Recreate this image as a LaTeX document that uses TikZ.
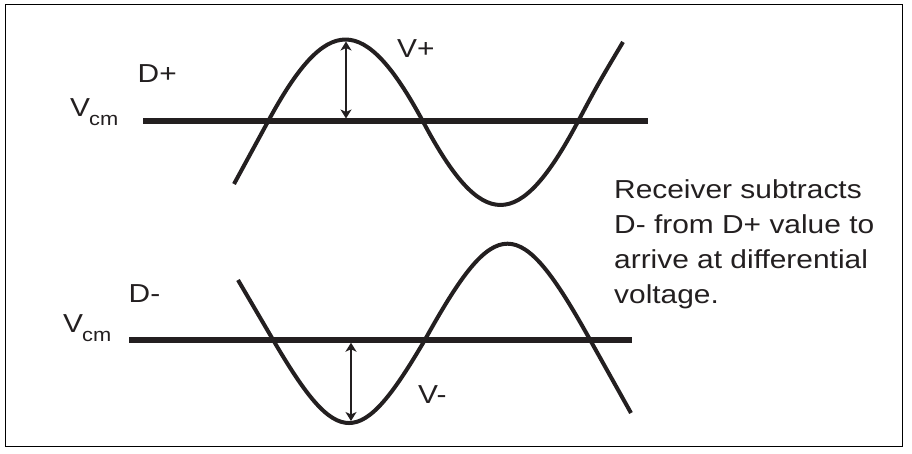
\documentclass[tikz,border=0pt]{standalone}
\usepackage{fontspec}
\setmainfont{Liberation Sans}
\newfontfamily\lblfont[FakeStretch=1.15]{Liberation Sans}
\usetikzlibrary{arrows.meta}
\definecolor{ink}{RGB}{35,31,32}
\begin{document}
\begin{tikzpicture}[x=1pt,y=-1pt,
  lbl/.style={anchor=base west,inner sep=0pt,text=ink,font=\lblfont\fontsize{26}{35}\selectfont},
  note/.style={lbl,align=left},
  axisline/.style={draw=ink,line width=6pt},
  wave/.style={draw=ink,line width=4pt,line join=round},
  amp/.style={draw=ink,line width=2.2pt,>={Stealth[length=9pt,width=11pt,inset=2.5pt]},<->},
  frame/.style={draw=black,line width=1.3pt}]
\useasboundingbox (0,0) rectangle (912,454);
\draw[frame] (5.5,4.5) rectangle (902.5,446.5);

% ---- D+ ----
\coordinate (t1) at (143,121.5);
\coordinate (t2) at (648,121.5);
\draw[axisline] (t1) -- (t2);
\draw[wave] (234,184) -- (268,121.5)
  .. controls (327,12.2) and (364,12.2) .. (423,121.5)
  .. controls (482,232.8) and (519,232.8) .. (578,121.5)
  .. controls (598,84) .. (623,42);
\coordinate (tp) at (346,41.5);
\coordinate (tb) at (346,118.5);
\draw[amp] (tp) -- (tb);
\node[lbl] (dp) at (137.5,83) {D+};
\node[lbl] (vcm1) at (70,117) {V\kern-1pt\raisebox{-9pt}{\fontsize{19}{19}\selectfont cm}};
\node[lbl] (vp) at (397,58) {V+};

% ---- D- ----
\coordinate (b1) at (129,339.7);
\coordinate (b2) at (632,339.7);
\draw[axisline] (b1) -- (b2);
\draw[wave] (238,280) -- (273,339.7)
  .. controls (338,450.8) and (360,450.8) .. (425,339.7)
  .. controls (496,211.7) and (519,211.7) .. (590,339.7)
  -- (631,413);
\coordinate (bt) at (351,342.7);
\coordinate (bp) at (351,421);
\draw[amp] (bt) -- (bp);
\node[lbl] (dm) at (128.5,302) {D-};
\node[lbl] (vcm2) at (63,332) {V\kern-1pt\raisebox{-9pt}{\fontsize{19}{19}\selectfont cm}};
\node[lbl] (vm) at (418,403) {V-};

% ---- note (base anchor sits on the last line) ----
\node[note] (txt) at (614,303.3) {Receiver subtracts\\D- from D+ value to\\arrive at differential\\voltage.};
\end{tikzpicture}
\end{document}
